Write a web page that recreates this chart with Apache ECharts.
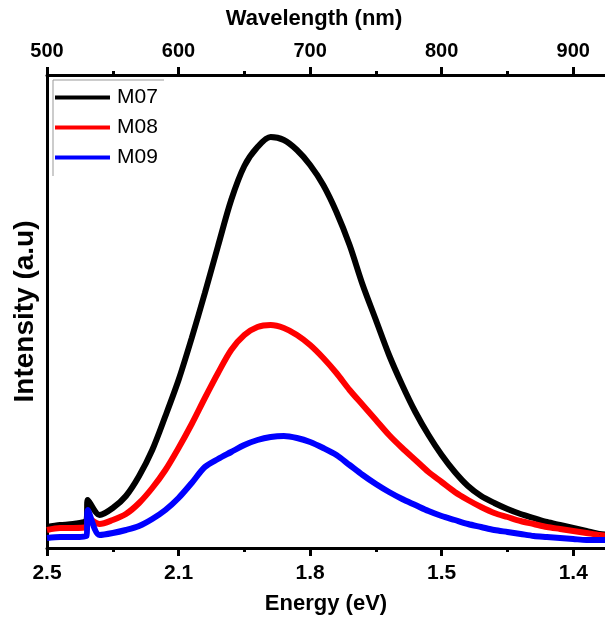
<!DOCTYPE html>
<html>
<head>
<meta charset="utf-8">
<script src="https://cdn.jsdelivr.net/npm/echarts@6/dist/echarts.min.js"></script>
<style>
  html, body { margin: 0; padding: 0; background: #fff; }
  #chart { width: 605px; height: 622px; }
</style>
</head>
<body>
<div id="chart"></div>
<script>
// Photoluminescence spectra, intensity vs wavelength (nm), sampled every 10 nm
const wavelength = [500, 510, 520, 530, 531, 540, 550, 560, 570, 580, 590, 600, 610, 620, 630, 640, 650,
  660, 670, 680, 690, 700, 710, 720, 730, 740, 750, 760, 770, 780, 790, 800, 810, 820, 830,
  840, 850, 860, 870, 880, 890, 900, 910, 920, 930];

const m07 = [21, 23, 24, 28, 48, 33, 40, 52, 72, 98, 132, 168, 210, 255, 302, 348, 382,
  401, 411, 408, 398, 383, 363, 336, 303, 263, 228, 193, 163, 136, 113, 93, 76, 62, 52,
  45, 39, 34, 30, 26, 23, 20, 17, 14, 13];
const m08 = [18, 20, 20, 21, 30, 24, 28, 34, 45, 60, 78, 100, 124, 150, 175, 198, 213,
  221, 223, 220, 213, 203, 190, 175, 158, 143, 128, 113, 100, 88, 76, 66, 56, 48, 41,
  35, 31, 27, 24, 21, 19, 17, 15, 13, 12];
const m09 = [10, 11, 11, 12, 38, 13, 15, 18, 22, 29, 38, 50, 65, 81, 89, 96, 103,
  108, 111, 112, 110, 106, 100, 93, 83, 73, 64, 56, 49, 43, 37, 32, 28, 24, 21,
  18, 16, 14, 12, 11, 10, 9, 8, 8, 8];

const seriesNames = ['M07', 'M08', 'M09'];
const seriesColors = ['#000000', '#ff0000', '#0000ff'];

// Tick labels: wavelength on top, corresponding photon energy on the bottom
const wavelengthTicks = [500, 600, 700, 800, 900];
const energyLabels = ['2.5', '2.1', '1.8', '1.5', '1.4'];

const FONT = "'Liberation Sans', Arial, sans-serif";

const pairs = (ys) => wavelength.map((w, i) => [w, ys[i]]);

function xAxisBase(position) {
  return {
    type: 'value',
    position: position,
    min: 500,
    max: 950,
    interval: 100,
    axisLine: { show: true, onZero: false, lineStyle: { color: '#000', width: 3 } },
    axisTick: { show: true, inside: false, length: 8, lineStyle: { color: '#000', width: 3 } },
    minorTick: { show: true, splitNumber: 2, length: 4, lineStyle: { color: '#000', width: 3 } },
    splitLine: { show: false },
    minorSplitLine: { show: false },
    nameLocation: 'middle',
    nameTextStyle: { fontFamily: FONT, fontWeight: 'bold', fontSize: 22, color: '#000' }
  };
}

const chart = echarts.init(document.getElementById('chart'), null, { renderer: 'canvas' });

// the frame runs past the right edge of the canvas, so the titles are nudged left
const bottomAxis = xAxisBase('bottom');
bottomAxis.name = 'Energy (eV)';
bottomAxis.nameGap = 45;
bottomAxis.nameTextStyle = Object.assign({}, bottomAxis.nameTextStyle, { padding: [0, 34, 0, 0] });
bottomAxis.axisLabel = {
  margin: 15,
  fontFamily: FONT, fontWeight: 'bold', fontSize: 21, color: '#000',
  formatter: (v) => {
    const i = wavelengthTicks.indexOf(v);
    return i >= 0 ? energyLabels[i] : '';
  }
};

const topAxis = xAxisBase('top');
topAxis.name = 'Wavelength (nm)';
topAxis.nameGap = 45;
topAxis.nameTextStyle = Object.assign({}, topAxis.nameTextStyle, { padding: [0, 58, 0, 0] });
topAxis.axisLabel = {
  margin: 14,
  fontFamily: FONT, fontWeight: 'bold', fontSize: 20, color: '#000',
  formatter: (v) => (wavelengthTicks.indexOf(v) >= 0 ? String(v) : '')
};

chart.setOption({
  backgroundColor: '#ffffff',
  animation: false,
  grid: { left: 47, top: 75, width: 592, height: 473, containLabel: false, outerBoundsMode: 'none' },
  legend: {
    data: seriesNames,
    orient: 'vertical',
    left: 55,
    top: 87,
    padding: 0,
    icon: 'rect',
    itemWidth: 55,
    itemHeight: 4,
    itemGap: 9,
    textStyle: { fontFamily: FONT, fontSize: 21, color: '#000', padding: [0, 0, 0, 2] }
  },
  graphic: [
    { type: 'polyline', shape: { points: [[53, 176], [53, 80], [164, 80]] },
      style: { stroke: '#999', lineWidth: 1, fill: null }, z: 100 }
  ],
  xAxis: [bottomAxis, topAxis],
  yAxis: {
    type: 'value',
    min: 0,
    max: 473,
    name: 'Intensity (a.u)',
    nameLocation: 'middle',
    nameGap: 8,
    nameTextStyle: { fontFamily: FONT, fontWeight: 'bold', fontSize: 28, color: '#000' },
    axisLine: { show: true, lineStyle: { color: '#000', width: 3 } },
    axisTick: { show: false },
    axisLabel: { show: false },
    splitLine: { show: false }
  },
  series: [m07, m08, m09].map((ys, i) => ({
    name: seriesNames[i],
    type: 'line',
    xAxisIndex: 0,
    data: pairs(ys),
    showSymbol: false,
    symbol: 'none',
    smooth: 0.3,
    color: seriesColors[i],
    lineStyle: { color: seriesColors[i], width: 6 }
  }))
});
</script>
</body>
</html>
